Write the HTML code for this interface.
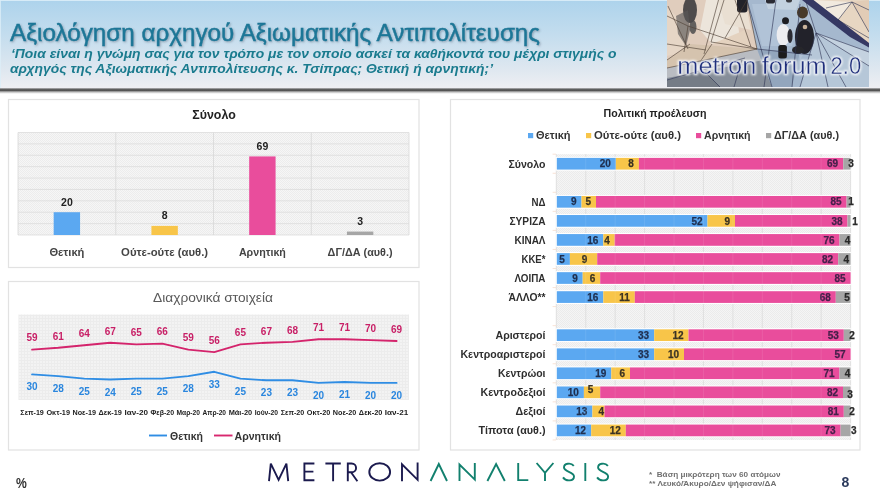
<!DOCTYPE html>
<html><head><meta charset="utf-8"><title>Metron Analysis</title>
<style>
html,body{margin:0;padding:0;background:#fff;}
body{width:880px;height:495px;overflow:hidden;font-family:"Liberation Sans",sans-serif;}
svg{display:block;opacity:0.999;will-change:transform;font-family:"Liberation Sans",sans-serif;}
</style></head><body>
<svg width="880" height="495" viewBox="0 0 880 495">
<defs>
<linearGradient id="hg" x1="0" y1="0" x2="0" y2="1">
<stop offset="0" stop-color="#add3ec"/><stop offset="0.4" stop-color="#c4ddee"/><stop offset="0.8" stop-color="#e0e8f0"/><stop offset="1" stop-color="#efeff3"/>
</linearGradient>
<linearGradient id="sh" x1="0" y1="0" x2="0" y2="1">
<stop offset="0" stop-color="#666" stop-opacity="0"/><stop offset="0.2" stop-color="#444" stop-opacity="0.75"/><stop offset="0.42" stop-color="#3a3a3a" stop-opacity="0.95"/><stop offset="0.65" stop-color="#666" stop-opacity="0.55"/><stop offset="1" stop-color="#aaa" stop-opacity="0"/>
</linearGradient>
<pattern id="hatch" width="2" height="2" patternUnits="userSpaceOnUse"><rect width="2" height="2" fill="#f6f6f6"/><rect width="1" height="1" fill="#ececec"/><rect x="1" y="1" width="1" height="1" fill="#ececec"/></pattern>
<pattern id="hatch2" width="2" height="2" patternUnits="userSpaceOnUse"><rect width="2" height="2" fill="#f5f5f5"/><rect width="1" height="1" fill="#ebebeb"/><rect x="1" y="1" width="1" height="1" fill="#ebebeb"/></pattern>
<pattern id="grid" width="3" height="3" patternUnits="userSpaceOnUse"><rect width="3" height="3" fill="#f3f3f3"/><path d="M0 0.5H3M0.5 0V3" stroke="#ececec" stroke-width="1"/></pattern>
<filter id="ts" x="-5%" y="-20%" width="110%" height="150%"><feDropShadow dx="1" dy="1" stdDeviation="0.8" flood-color="#456" flood-opacity="0.45"/></filter>
<clipPath id="pc"><rect x="667" y="0" width="201.5" height="86.5"/></clipPath>
<filter id="pb" x="-5%" y="-5%" width="110%" height="110%"><feGaussianBlur stdDeviation="0.7"/></filter>
<filter id="glow" x="-10%" y="-50%" width="120%" height="200%"><feGaussianBlur stdDeviation="1.25"/></filter>
</defs>
<rect x="0" y="0" width="880" height="89" fill="url(#hg)"/>
<rect x="0" y="0" width="880" height="1" fill="#dcedf8" opacity="0.9"/>
<rect x="0" y="0" width="1" height="88" fill="#dcedf8" opacity="0.8"/>
<rect x="0" y="87.6" width="880" height="6.4" fill="url(#sh)"/>
<text x="10" y="41.3" font-size="23.3" fill="#1c7797" font-weight="normal" text-anchor="start" textLength="530" lengthAdjust="spacingAndGlyphs" stroke="#1c7797" stroke-width="0.45" filter="url(#ts)">Αξιολόγηση αρχηγού Αξιωματικής Αντιπολίτευσης</text>
<text x="11" y="57.5" font-size="12.3" fill="#1a7b8e" font-weight="bold" text-anchor="start" textLength="605.5" lengthAdjust="spacingAndGlyphs" font-style="italic" >‘Ποια είναι η γνώμη σας για τον τρόπο με τον οποίο ασκεί τα καθήκοντά του μέχρι στιγμής ο</text>
<text x="10" y="73.4" font-size="12.3" fill="#1a7b8e" font-weight="bold" text-anchor="start" textLength="483" lengthAdjust="spacingAndGlyphs" font-style="italic" >αρχηγός της Αξιωματικής Αντιπολίτευσης κ. Τσίπρας; Θετική ή αρνητική;’</text>
<rect x="8.5" y="99.5" width="410.5" height="168" fill="#fff" stroke="#e2e2e2" stroke-width="1.2"/>
<rect x="8.5" y="281.5" width="410.5" height="168.5" fill="#fff" stroke="#e2e2e2" stroke-width="1.2"/>
<rect x="450.5" y="99.5" width="409.5" height="350.5" fill="#fff" stroke="#e2e2e2" stroke-width="1.2"/>
<rect x="18" y="132.5" width="391" height="102.5" fill="url(#hatch)"/>
<line x1="18" x2="409" y1="132.50" y2="132.50" stroke="#dcdcdc" stroke-width="0.8"/>
<line x1="18" x2="409" y1="143.89" y2="143.89" stroke="#dcdcdc" stroke-width="0.8"/>
<line x1="18" x2="409" y1="155.28" y2="155.28" stroke="#dcdcdc" stroke-width="0.8"/>
<line x1="18" x2="409" y1="166.67" y2="166.67" stroke="#dcdcdc" stroke-width="0.8"/>
<line x1="18" x2="409" y1="178.06" y2="178.06" stroke="#dcdcdc" stroke-width="0.8"/>
<line x1="18" x2="409" y1="189.44" y2="189.44" stroke="#dcdcdc" stroke-width="0.8"/>
<line x1="18" x2="409" y1="200.83" y2="200.83" stroke="#dcdcdc" stroke-width="0.8"/>
<line x1="18" x2="409" y1="212.22" y2="212.22" stroke="#dcdcdc" stroke-width="0.8"/>
<line x1="18" x2="409" y1="223.61" y2="223.61" stroke="#dcdcdc" stroke-width="0.8"/>
<line x1="18" x2="409" y1="235.00" y2="235.00" stroke="#dcdcdc" stroke-width="0.8"/>
<line x1="18.00" x2="18.00" y1="132.5" y2="235" stroke="#d8d8d8" stroke-width="0.8"/>
<line x1="115.75" x2="115.75" y1="132.5" y2="235" stroke="#d8d8d8" stroke-width="0.8"/>
<line x1="213.50" x2="213.50" y1="132.5" y2="235" stroke="#d8d8d8" stroke-width="0.8"/>
<line x1="311.25" x2="311.25" y1="132.5" y2="235" stroke="#d8d8d8" stroke-width="0.8"/>
<line x1="409.00" x2="409.00" y1="132.5" y2="235" stroke="#d8d8d8" stroke-width="0.8"/>
<text x="214" y="118.5" font-size="12.5" fill="#222" font-weight="bold" text-anchor="middle" textLength="43.5" lengthAdjust="spacingAndGlyphs" >Σύνολο</text>
<rect x="53.67" y="212.22" width="26.4" height="22.78" fill="#5ba8f1"/>
<text x="66.9" y="205.7" font-size="10.5" fill="#222" font-weight="bold" text-anchor="middle" >20</text>
<text x="66.9" y="256" font-size="10.5" fill="#444" font-weight="bold" text-anchor="middle" textLength="35" lengthAdjust="spacingAndGlyphs" >Θετική</text>
<rect x="151.43" y="225.89" width="26.4" height="9.11" fill="#f8c549"/>
<text x="164.6" y="219.4" font-size="10.5" fill="#222" font-weight="bold" text-anchor="middle" >8</text>
<text x="164.6" y="256" font-size="10.5" fill="#444" font-weight="bold" text-anchor="middle" textLength="87" lengthAdjust="spacingAndGlyphs" >Ούτε-ούτε (αυθ.)</text>
<rect x="249.18" y="156.42" width="26.4" height="78.58" fill="#e94d9c"/>
<text x="262.4" y="149.9" font-size="10.5" fill="#222" font-weight="bold" text-anchor="middle" >69</text>
<text x="262.4" y="256" font-size="10.5" fill="#444" font-weight="bold" text-anchor="middle" textLength="47" lengthAdjust="spacingAndGlyphs" >Αρνητική</text>
<rect x="346.93" y="231.58" width="26.4" height="3.42" fill="#a6a6a6"/>
<text x="360.1" y="225.1" font-size="10.5" fill="#222" font-weight="bold" text-anchor="middle" >3</text>
<text x="360.1" y="256" font-size="10.5" fill="#444" font-weight="bold" text-anchor="middle" textLength="65" lengthAdjust="spacingAndGlyphs" >ΔΓ/ΔΑ (αυθ.)</text>
<rect x="18.5" y="314.5" width="390.5" height="85.5" fill="url(#grid)"/>
<text x="213" y="302" font-size="12.5" fill="#595959" font-weight="normal" text-anchor="middle" textLength="120" lengthAdjust="spacingAndGlyphs" >Διαχρονικά στοιχεία</text>
<polyline points="32.1,349.6 58.2,347.8 84.2,345.3 110.2,342.7 136.2,344.4 162.3,343.6 188.3,349.6 214.3,352.1 240.4,344.4 266.4,342.7 292.5,341.9 318.5,339.3 344.5,339.3 370.6,340.1 396.6,341.0" fill="none" stroke="#d4246c" stroke-width="1.9" stroke-linejoin="round" stroke-linecap="round"/>
<text x="32.1" y="341.4" font-size="10" fill="#c81f66" font-weight="bold" text-anchor="middle" >59</text>
<text x="58.2" y="339.6" font-size="10" fill="#c81f66" font-weight="bold" text-anchor="middle" >61</text>
<text x="84.2" y="337.1" font-size="10" fill="#c81f66" font-weight="bold" text-anchor="middle" >64</text>
<text x="110.2" y="334.5" font-size="10" fill="#c81f66" font-weight="bold" text-anchor="middle" >67</text>
<text x="136.2" y="336.2" font-size="10" fill="#c81f66" font-weight="bold" text-anchor="middle" >65</text>
<text x="162.3" y="335.4" font-size="10" fill="#c81f66" font-weight="bold" text-anchor="middle" >66</text>
<text x="188.3" y="341.4" font-size="10" fill="#c81f66" font-weight="bold" text-anchor="middle" >59</text>
<text x="214.3" y="343.9" font-size="10" fill="#c81f66" font-weight="bold" text-anchor="middle" >56</text>
<text x="240.4" y="336.2" font-size="10" fill="#c81f66" font-weight="bold" text-anchor="middle" >65</text>
<text x="266.4" y="334.5" font-size="10" fill="#c81f66" font-weight="bold" text-anchor="middle" >67</text>
<text x="292.5" y="333.7" font-size="10" fill="#c81f66" font-weight="bold" text-anchor="middle" >68</text>
<text x="318.5" y="331.1" font-size="10" fill="#c81f66" font-weight="bold" text-anchor="middle" >71</text>
<text x="344.5" y="331.1" font-size="10" fill="#c81f66" font-weight="bold" text-anchor="middle" >71</text>
<text x="370.6" y="331.9" font-size="10" fill="#c81f66" font-weight="bold" text-anchor="middle" >70</text>
<text x="396.6" y="332.8" font-size="10" fill="#c81f66" font-weight="bold" text-anchor="middle" >69</text>
<polyline points="32.1,374.4 58.2,376.1 84.2,378.6 110.2,379.5 136.2,378.6 162.3,378.6 188.3,376.1 214.3,371.8 240.4,378.6 266.4,380.3 292.5,380.3 318.5,382.9 344.5,382.0 370.6,382.9 396.6,382.9" fill="none" stroke="#2f8de4" stroke-width="1.9" stroke-linejoin="round" stroke-linecap="round"/>
<text x="32.1" y="390.4" font-size="10" fill="#2a86de" font-weight="bold" text-anchor="middle" >30</text>
<text x="58.2" y="392.1" font-size="10" fill="#2a86de" font-weight="bold" text-anchor="middle" >28</text>
<text x="84.2" y="394.6" font-size="10" fill="#2a86de" font-weight="bold" text-anchor="middle" >25</text>
<text x="110.2" y="395.5" font-size="10" fill="#2a86de" font-weight="bold" text-anchor="middle" >24</text>
<text x="136.2" y="394.6" font-size="10" fill="#2a86de" font-weight="bold" text-anchor="middle" >25</text>
<text x="162.3" y="394.6" font-size="10" fill="#2a86de" font-weight="bold" text-anchor="middle" >25</text>
<text x="188.3" y="392.1" font-size="10" fill="#2a86de" font-weight="bold" text-anchor="middle" >28</text>
<text x="214.3" y="387.8" font-size="10" fill="#2a86de" font-weight="bold" text-anchor="middle" >33</text>
<text x="240.4" y="394.6" font-size="10" fill="#2a86de" font-weight="bold" text-anchor="middle" >25</text>
<text x="266.4" y="396.3" font-size="10" fill="#2a86de" font-weight="bold" text-anchor="middle" >23</text>
<text x="292.5" y="396.3" font-size="10" fill="#2a86de" font-weight="bold" text-anchor="middle" >23</text>
<text x="318.5" y="398.9" font-size="10" fill="#2a86de" font-weight="bold" text-anchor="middle" >20</text>
<text x="344.5" y="398.0" font-size="10" fill="#2a86de" font-weight="bold" text-anchor="middle" >21</text>
<text x="370.6" y="398.9" font-size="10" fill="#2a86de" font-weight="bold" text-anchor="middle" >20</text>
<text x="396.6" y="398.9" font-size="10" fill="#2a86de" font-weight="bold" text-anchor="middle" >20</text>
<text x="32.1" y="414.5" font-size="6.6" fill="#222" font-weight="bold" text-anchor="middle" textLength="23.5" lengthAdjust="spacingAndGlyphs" >Σεπ-19</text>
<text x="58.2" y="414.5" font-size="6.6" fill="#222" font-weight="bold" text-anchor="middle" textLength="23.5" lengthAdjust="spacingAndGlyphs" >Οκτ-19</text>
<text x="84.2" y="414.5" font-size="6.6" fill="#222" font-weight="bold" text-anchor="middle" textLength="23.5" lengthAdjust="spacingAndGlyphs" >Νοε-19</text>
<text x="110.2" y="414.5" font-size="6.6" fill="#222" font-weight="bold" text-anchor="middle" textLength="23.5" lengthAdjust="spacingAndGlyphs" >Δεκ-19</text>
<text x="136.2" y="414.5" font-size="6.6" fill="#222" font-weight="bold" text-anchor="middle" textLength="23.5" lengthAdjust="spacingAndGlyphs" >Ιαν-20</text>
<text x="162.3" y="414.5" font-size="6.6" fill="#222" font-weight="bold" text-anchor="middle" textLength="23.5" lengthAdjust="spacingAndGlyphs" >Φεβ-20</text>
<text x="188.3" y="414.5" font-size="6.6" fill="#222" font-weight="bold" text-anchor="middle" textLength="23.5" lengthAdjust="spacingAndGlyphs" >Μαρ-20</text>
<text x="214.3" y="414.5" font-size="6.6" fill="#222" font-weight="bold" text-anchor="middle" textLength="23.5" lengthAdjust="spacingAndGlyphs" >Απρ-20</text>
<text x="240.4" y="414.5" font-size="6.6" fill="#222" font-weight="bold" text-anchor="middle" textLength="23.5" lengthAdjust="spacingAndGlyphs" >Μάι-20</text>
<text x="266.4" y="414.5" font-size="6.6" fill="#222" font-weight="bold" text-anchor="middle" textLength="23.5" lengthAdjust="spacingAndGlyphs" >Ιούν-20</text>
<text x="292.5" y="414.5" font-size="6.6" fill="#222" font-weight="bold" text-anchor="middle" textLength="23.5" lengthAdjust="spacingAndGlyphs" >Σεπ-20</text>
<text x="318.5" y="414.5" font-size="6.6" fill="#222" font-weight="bold" text-anchor="middle" textLength="23.5" lengthAdjust="spacingAndGlyphs" >Οκτ-20</text>
<text x="344.5" y="414.5" font-size="6.6" fill="#222" font-weight="bold" text-anchor="middle" textLength="23.5" lengthAdjust="spacingAndGlyphs" >Νοε-20</text>
<text x="370.6" y="414.5" font-size="6.6" fill="#222" font-weight="bold" text-anchor="middle" textLength="23.5" lengthAdjust="spacingAndGlyphs" >Δεκ-20</text>
<text x="396.6" y="414.5" font-size="6.6" fill="#222" font-weight="bold" text-anchor="middle" textLength="23.5" lengthAdjust="spacingAndGlyphs" >Ιαν-21</text>
<line x1="149" x2="167" y1="435.5" y2="435.5" stroke="#2f8de4" stroke-width="1.9"/>
<text x="170" y="439.5" font-size="10.5" fill="#333" font-weight="bold" text-anchor="start" textLength="33" lengthAdjust="spacingAndGlyphs" >Θετική</text>
<line x1="214" x2="232.5" y1="435.5" y2="435.5" stroke="#d8276f" stroke-width="1.9"/>
<text x="234.5" y="439.5" font-size="10.5" fill="#333" font-weight="bold" text-anchor="start" textLength="46.5" lengthAdjust="spacingAndGlyphs" >Αρνητική</text>
<rect x="556.3" y="154.2" width="294.30000000000007" height="285.8" fill="url(#hatch2)"/>
<line x1="556.30" x2="556.30" y1="154.2" y2="439.9" stroke="#d9d9d9" stroke-width="0.8"/>
<line x1="585.73" x2="585.73" y1="154.2" y2="439.9" stroke="#d9d9d9" stroke-width="0.8"/>
<line x1="615.16" x2="615.16" y1="154.2" y2="439.9" stroke="#d9d9d9" stroke-width="0.8"/>
<line x1="644.59" x2="644.59" y1="154.2" y2="439.9" stroke="#d9d9d9" stroke-width="0.8"/>
<line x1="674.02" x2="674.02" y1="154.2" y2="439.9" stroke="#d9d9d9" stroke-width="0.8"/>
<line x1="703.45" x2="703.45" y1="154.2" y2="439.9" stroke="#d9d9d9" stroke-width="0.8"/>
<line x1="732.88" x2="732.88" y1="154.2" y2="439.9" stroke="#d9d9d9" stroke-width="0.8"/>
<line x1="762.31" x2="762.31" y1="154.2" y2="439.9" stroke="#d9d9d9" stroke-width="0.8"/>
<line x1="791.74" x2="791.74" y1="154.2" y2="439.9" stroke="#d9d9d9" stroke-width="0.8"/>
<line x1="821.17" x2="821.17" y1="154.2" y2="439.9" stroke="#d9d9d9" stroke-width="0.8"/>
<line x1="850.60" x2="850.60" y1="154.2" y2="439.9" stroke="#d9d9d9" stroke-width="0.8"/>
<line x1="552.6" x2="556" y1="154.20" y2="154.20" stroke="#f6dccb" stroke-width="0.8"/>
<line x1="552.6" x2="556" y1="173.25" y2="173.25" stroke="#f6dccb" stroke-width="0.8"/>
<line x1="552.6" x2="556" y1="192.30" y2="192.30" stroke="#f6dccb" stroke-width="0.8"/>
<line x1="552.6" x2="556" y1="211.35" y2="211.35" stroke="#f6dccb" stroke-width="0.8"/>
<line x1="552.6" x2="556" y1="230.40" y2="230.40" stroke="#f6dccb" stroke-width="0.8"/>
<line x1="552.6" x2="556" y1="249.45" y2="249.45" stroke="#f6dccb" stroke-width="0.8"/>
<line x1="552.6" x2="556" y1="268.50" y2="268.50" stroke="#f6dccb" stroke-width="0.8"/>
<line x1="552.6" x2="556" y1="287.55" y2="287.55" stroke="#f6dccb" stroke-width="0.8"/>
<line x1="552.6" x2="556" y1="306.60" y2="306.60" stroke="#f6dccb" stroke-width="0.8"/>
<line x1="552.6" x2="556" y1="325.65" y2="325.65" stroke="#f6dccb" stroke-width="0.8"/>
<line x1="552.6" x2="556" y1="344.70" y2="344.70" stroke="#f6dccb" stroke-width="0.8"/>
<line x1="552.6" x2="556" y1="363.75" y2="363.75" stroke="#f6dccb" stroke-width="0.8"/>
<line x1="552.6" x2="556" y1="382.80" y2="382.80" stroke="#f6dccb" stroke-width="0.8"/>
<line x1="552.6" x2="556" y1="401.85" y2="401.85" stroke="#f6dccb" stroke-width="0.8"/>
<line x1="552.6" x2="556" y1="420.90" y2="420.90" stroke="#f6dccb" stroke-width="0.8"/>
<line x1="552.6" x2="556" y1="439.95" y2="439.95" stroke="#f6dccb" stroke-width="0.8"/>
<text x="655" y="117" font-size="10.5" fill="#222" font-weight="bold" text-anchor="middle" textLength="103" lengthAdjust="spacingAndGlyphs" >Πολιτική προέλευση</text>
<rect x="528" y="133" width="5.2" height="5.2" fill="#5ba8f1"/>
<text x="536" y="139.3" font-size="10.5" fill="#333" font-weight="bold" text-anchor="start" textLength="34.5" lengthAdjust="spacingAndGlyphs" >Θετική</text>
<rect x="586" y="133" width="5.2" height="5.2" fill="#f8c549"/>
<text x="594" y="139.3" font-size="10.5" fill="#333" font-weight="bold" text-anchor="start" textLength="87" lengthAdjust="spacingAndGlyphs" >Ούτε-ούτε (αυθ.)</text>
<rect x="696" y="133" width="5.2" height="5.2" fill="#e94d9c"/>
<text x="704" y="139.3" font-size="10.5" fill="#333" font-weight="bold" text-anchor="start" textLength="46.5" lengthAdjust="spacingAndGlyphs" >Αρνητική</text>
<rect x="766" y="133" width="5.2" height="5.2" fill="#a6a6a6"/>
<text x="774" y="139.3" font-size="10.5" fill="#333" font-weight="bold" text-anchor="start" textLength="65" lengthAdjust="spacingAndGlyphs" >ΔΓ/ΔΑ (αυθ.)</text>
<rect x="555.70" y="156.82" width="295.50" height="13.8" fill="#ffffff"/>
<rect x="556.80" y="157.88" width="59.05" height="11.7" fill="#5ba8f1"/>
<rect x="615.85" y="157.88" width="23.05" height="11.7" fill="#f8c549"/>
<rect x="638.90" y="157.88" width="204.35" height="11.7" fill="#e94d9c"/>
<rect x="843.25" y="157.88" width="7.35" height="11.7" fill="#a6a6a6"/>
<text x="610.9" y="167.3" font-size="10" fill="#1f2f4f" font-weight="bold" text-anchor="end" stroke="#1f2f4f" stroke-width="0.25">20</text>
<text x="633.9" y="167.3" font-size="10" fill="#3a3222" font-weight="bold" text-anchor="end" stroke="#3a3222" stroke-width="0.25">8</text>
<text x="838.2" y="167.3" font-size="10" fill="#45204a" font-weight="bold" text-anchor="end" stroke="#45204a" stroke-width="0.25">69</text>
<text x="851.0" y="167.3" font-size="10" fill="#2a2a2a" font-weight="bold" text-anchor="middle" stroke="#2a2a2a" stroke-width="0.25">3</text>
<text x="545.5" y="167.5" font-size="10.5" fill="#2e2e2e" font-weight="bold" text-anchor="end" textLength="37" lengthAdjust="spacingAndGlyphs" >Σύνολο</text>
<rect x="555.70" y="194.92" width="295.50" height="13.8" fill="#ffffff"/>
<rect x="556.80" y="195.97" width="24.70" height="11.7" fill="#5ba8f1"/>
<rect x="581.50" y="195.97" width="14.50" height="11.7" fill="#f8c549"/>
<rect x="596.00" y="195.97" width="250.60" height="11.7" fill="#e94d9c"/>
<rect x="846.60" y="195.97" width="4.00" height="11.7" fill="#a6a6a6"/>
<text x="576.5" y="205.4" font-size="10" fill="#1f2f4f" font-weight="bold" text-anchor="end" stroke="#1f2f4f" stroke-width="0.25">9</text>
<text x="591.0" y="205.4" font-size="10" fill="#3a3222" font-weight="bold" text-anchor="end" stroke="#3a3222" stroke-width="0.25">5</text>
<text x="841.6" y="205.4" font-size="10" fill="#45204a" font-weight="bold" text-anchor="end" stroke="#45204a" stroke-width="0.25">85</text>
<text x="851.0" y="205.4" font-size="10" fill="#2a2a2a" font-weight="bold" text-anchor="middle" stroke="#2a2a2a" stroke-width="0.25">1</text>
<text x="545.5" y="205.6" font-size="10.5" fill="#2e2e2e" font-weight="bold" text-anchor="end" textLength="14" lengthAdjust="spacingAndGlyphs" >ΝΔ</text>
<rect x="555.70" y="213.97" width="295.50" height="13.8" fill="#ffffff"/>
<rect x="556.80" y="215.03" width="150.70" height="11.7" fill="#5ba8f1"/>
<rect x="707.50" y="215.03" width="27.50" height="11.7" fill="#f8c549"/>
<rect x="735.00" y="215.03" width="112.50" height="11.7" fill="#e94d9c"/>
<rect x="847.50" y="215.03" width="3.10" height="11.7" fill="#a6a6a6"/>
<text x="702.5" y="224.5" font-size="10" fill="#1f2f4f" font-weight="bold" text-anchor="end" stroke="#1f2f4f" stroke-width="0.25">52</text>
<text x="730.0" y="224.5" font-size="10" fill="#3a3222" font-weight="bold" text-anchor="end" stroke="#3a3222" stroke-width="0.25">9</text>
<text x="842.5" y="224.5" font-size="10" fill="#45204a" font-weight="bold" text-anchor="end" stroke="#45204a" stroke-width="0.25">38</text>
<text x="855.0" y="224.5" font-size="10" fill="#2a2a2a" font-weight="bold" text-anchor="middle" stroke="#2a2a2a" stroke-width="0.25">1</text>
<text x="545.5" y="224.7" font-size="10.5" fill="#2e2e2e" font-weight="bold" text-anchor="end" textLength="36" lengthAdjust="spacingAndGlyphs" >ΣΥΡΙΖΑ</text>
<rect x="555.70" y="233.03" width="295.50" height="13.8" fill="#ffffff"/>
<rect x="556.80" y="234.08" width="46.50" height="11.7" fill="#5ba8f1"/>
<rect x="603.30" y="234.08" width="11.40" height="11.7" fill="#f8c549"/>
<rect x="614.70" y="234.08" width="224.80" height="11.7" fill="#e94d9c"/>
<rect x="839.50" y="234.08" width="11.10" height="11.7" fill="#a6a6a6"/>
<text x="598.3" y="243.5" font-size="10" fill="#1f2f4f" font-weight="bold" text-anchor="end" stroke="#1f2f4f" stroke-width="0.25">16</text>
<text x="609.7" y="243.5" font-size="10" fill="#3a3222" font-weight="bold" text-anchor="end" stroke="#3a3222" stroke-width="0.25">4</text>
<text x="834.5" y="243.5" font-size="10" fill="#45204a" font-weight="bold" text-anchor="end" stroke="#45204a" stroke-width="0.25">76</text>
<text x="847.5" y="243.5" font-size="10" fill="#2a2a2a" font-weight="bold" text-anchor="middle" stroke="#2a2a2a" stroke-width="0.25">4</text>
<text x="545.5" y="243.7" font-size="10.5" fill="#2e2e2e" font-weight="bold" text-anchor="end" textLength="31" lengthAdjust="spacingAndGlyphs" >ΚΙΝΑΛ</text>
<rect x="555.70" y="252.08" width="295.50" height="13.8" fill="#ffffff"/>
<rect x="556.80" y="253.13" width="13.10" height="11.7" fill="#5ba8f1"/>
<rect x="569.90" y="253.13" width="27.30" height="11.7" fill="#f8c549"/>
<rect x="597.20" y="253.13" width="241.00" height="11.7" fill="#e94d9c"/>
<rect x="838.20" y="253.13" width="12.40" height="11.7" fill="#a6a6a6"/>
<text x="564.9" y="262.6" font-size="10" fill="#1f2f4f" font-weight="bold" text-anchor="end" stroke="#1f2f4f" stroke-width="0.25">5</text>
<text x="584.6" y="262.6" font-size="10" fill="#3a3222" font-weight="bold" text-anchor="middle" stroke="#3a3222" stroke-width="0.25">9</text>
<text x="833.2" y="262.6" font-size="10" fill="#45204a" font-weight="bold" text-anchor="end" stroke="#45204a" stroke-width="0.25">82</text>
<text x="846.3" y="262.6" font-size="10" fill="#2a2a2a" font-weight="bold" text-anchor="middle" stroke="#2a2a2a" stroke-width="0.25">4</text>
<text x="545.5" y="262.8" font-size="10.5" fill="#2e2e2e" font-weight="bold" text-anchor="end" textLength="24" lengthAdjust="spacingAndGlyphs" >ΚΚΕ*</text>
<rect x="555.70" y="271.12" width="295.50" height="13.8" fill="#ffffff"/>
<rect x="556.80" y="272.17" width="25.90" height="11.7" fill="#5ba8f1"/>
<rect x="582.70" y="272.17" width="17.50" height="11.7" fill="#f8c549"/>
<rect x="600.20" y="272.17" width="250.40" height="11.7" fill="#e94d9c"/>
<text x="577.7" y="281.6" font-size="10" fill="#1f2f4f" font-weight="bold" text-anchor="end" stroke="#1f2f4f" stroke-width="0.25">9</text>
<text x="595.2" y="281.6" font-size="10" fill="#3a3222" font-weight="bold" text-anchor="end" stroke="#3a3222" stroke-width="0.25">6</text>
<text x="845.6" y="281.6" font-size="10" fill="#45204a" font-weight="bold" text-anchor="end" stroke="#45204a" stroke-width="0.25">85</text>
<text x="545.5" y="281.8" font-size="10.5" fill="#2e2e2e" font-weight="bold" text-anchor="end" textLength="31" lengthAdjust="spacingAndGlyphs" >ΛΟΙΠΑ</text>
<rect x="555.70" y="290.18" width="295.50" height="13.8" fill="#ffffff"/>
<rect x="556.80" y="291.22" width="46.50" height="11.7" fill="#5ba8f1"/>
<rect x="603.30" y="291.22" width="31.50" height="11.7" fill="#f8c549"/>
<rect x="634.80" y="291.22" width="201.00" height="11.7" fill="#e94d9c"/>
<rect x="835.80" y="291.22" width="14.80" height="11.7" fill="#a6a6a6"/>
<text x="598.3" y="300.7" font-size="10" fill="#1f2f4f" font-weight="bold" text-anchor="end" stroke="#1f2f4f" stroke-width="0.25">16</text>
<text x="629.8" y="300.7" font-size="10" fill="#3a3222" font-weight="bold" text-anchor="end" stroke="#3a3222" stroke-width="0.25">11</text>
<text x="830.8" y="300.7" font-size="10" fill="#45204a" font-weight="bold" text-anchor="end" stroke="#45204a" stroke-width="0.25">68</text>
<text x="847.0" y="300.7" font-size="10" fill="#2a2a2a" font-weight="bold" text-anchor="middle" stroke="#2a2a2a" stroke-width="0.25">5</text>
<text x="545.5" y="300.9" font-size="10.5" fill="#2e2e2e" font-weight="bold" text-anchor="end" textLength="37" lengthAdjust="spacingAndGlyphs" >ΆΛΛΟ**</text>
<rect x="555.70" y="328.27" width="295.50" height="13.8" fill="#ffffff"/>
<rect x="556.80" y="329.32" width="97.40" height="11.7" fill="#5ba8f1"/>
<rect x="654.20" y="329.32" width="34.30" height="11.7" fill="#f8c549"/>
<rect x="688.50" y="329.32" width="155.30" height="11.7" fill="#e94d9c"/>
<rect x="843.80" y="329.32" width="6.80" height="11.7" fill="#a6a6a6"/>
<text x="649.2" y="338.8" font-size="10" fill="#1f2f4f" font-weight="bold" text-anchor="end" stroke="#1f2f4f" stroke-width="0.25">33</text>
<text x="683.5" y="338.8" font-size="10" fill="#3a3222" font-weight="bold" text-anchor="end" stroke="#3a3222" stroke-width="0.25">12</text>
<text x="838.8" y="338.8" font-size="10" fill="#45204a" font-weight="bold" text-anchor="end" stroke="#45204a" stroke-width="0.25">53</text>
<text x="852.0" y="338.8" font-size="10" fill="#2a2a2a" font-weight="bold" text-anchor="middle" stroke="#2a2a2a" stroke-width="0.25">2</text>
<text x="545.5" y="339.0" font-size="10.5" fill="#2e2e2e" font-weight="bold" text-anchor="end" textLength="50" lengthAdjust="spacingAndGlyphs" >Αριστεροί</text>
<rect x="555.70" y="347.33" width="295.50" height="13.8" fill="#ffffff"/>
<rect x="556.80" y="348.38" width="97.40" height="11.7" fill="#5ba8f1"/>
<rect x="654.20" y="348.38" width="29.80" height="11.7" fill="#f8c549"/>
<rect x="684.00" y="348.38" width="166.60" height="11.7" fill="#e94d9c"/>
<text x="649.2" y="357.8" font-size="10" fill="#1f2f4f" font-weight="bold" text-anchor="end" stroke="#1f2f4f" stroke-width="0.25">33</text>
<text x="679.0" y="357.8" font-size="10" fill="#3a3222" font-weight="bold" text-anchor="end" stroke="#3a3222" stroke-width="0.25">10</text>
<text x="845.6" y="357.8" font-size="10" fill="#45204a" font-weight="bold" text-anchor="end" stroke="#45204a" stroke-width="0.25">57</text>
<text x="545.5" y="358.0" font-size="10.5" fill="#2e2e2e" font-weight="bold" text-anchor="end" textLength="85" lengthAdjust="spacingAndGlyphs" >Κεντροαριστεροί</text>
<rect x="555.70" y="366.38" width="295.50" height="13.8" fill="#ffffff"/>
<rect x="556.80" y="367.42" width="54.50" height="11.7" fill="#5ba8f1"/>
<rect x="611.30" y="367.42" width="18.70" height="11.7" fill="#f8c549"/>
<rect x="630.00" y="367.42" width="209.50" height="11.7" fill="#e94d9c"/>
<rect x="839.50" y="367.42" width="11.10" height="11.7" fill="#a6a6a6"/>
<text x="606.3" y="376.9" font-size="10" fill="#1f2f4f" font-weight="bold" text-anchor="end" stroke="#1f2f4f" stroke-width="0.25">19</text>
<text x="625.0" y="376.9" font-size="10" fill="#3a3222" font-weight="bold" text-anchor="end" stroke="#3a3222" stroke-width="0.25">6</text>
<text x="834.5" y="376.9" font-size="10" fill="#45204a" font-weight="bold" text-anchor="end" stroke="#45204a" stroke-width="0.25">71</text>
<text x="847.5" y="376.9" font-size="10" fill="#2a2a2a" font-weight="bold" text-anchor="middle" stroke="#2a2a2a" stroke-width="0.25">4</text>
<text x="545.5" y="377.1" font-size="10.5" fill="#2e2e2e" font-weight="bold" text-anchor="end" textLength="47.5" lengthAdjust="spacingAndGlyphs" >Κεντρώοι</text>
<rect x="555.70" y="385.43" width="295.50" height="13.8" fill="#ffffff"/>
<rect x="556.80" y="386.47" width="27.10" height="11.7" fill="#5ba8f1"/>
<rect x="583.90" y="386.47" width="16.30" height="11.7" fill="#f8c549"/>
<rect x="600.20" y="386.47" width="242.80" height="11.7" fill="#e94d9c"/>
<rect x="843.00" y="386.47" width="7.60" height="11.7" fill="#a6a6a6"/>
<text x="578.9" y="395.9" font-size="10" fill="#1f2f4f" font-weight="bold" text-anchor="end" stroke="#1f2f4f" stroke-width="0.25">10</text>
<text x="590.5" y="393.1" font-size="10" fill="#3a3222" font-weight="bold" text-anchor="middle" stroke="#3a3222" stroke-width="0.25">5</text>
<text x="838.0" y="395.9" font-size="10" fill="#45204a" font-weight="bold" text-anchor="end" stroke="#45204a" stroke-width="0.25">82</text>
<text x="850.0" y="397.7" font-size="10" fill="#2a2a2a" font-weight="bold" text-anchor="middle" stroke="#2a2a2a" stroke-width="0.25">3</text>
<text x="545.5" y="396.1" font-size="10.5" fill="#2e2e2e" font-weight="bold" text-anchor="end" textLength="65" lengthAdjust="spacingAndGlyphs" >Κεντροδεξιοί</text>
<rect x="555.70" y="404.48" width="295.50" height="13.8" fill="#ffffff"/>
<rect x="556.80" y="405.52" width="35.60" height="11.7" fill="#5ba8f1"/>
<rect x="592.40" y="405.52" width="12.10" height="11.7" fill="#f8c549"/>
<rect x="604.50" y="405.52" width="239.30" height="11.7" fill="#e94d9c"/>
<rect x="843.80" y="405.52" width="6.80" height="11.7" fill="#a6a6a6"/>
<text x="587.4" y="415.0" font-size="10" fill="#1f2f4f" font-weight="bold" text-anchor="end" stroke="#1f2f4f" stroke-width="0.25">13</text>
<text x="601.4" y="415.0" font-size="10" fill="#3a3222" font-weight="bold" text-anchor="middle" stroke="#3a3222" stroke-width="0.25">4</text>
<text x="838.8" y="415.0" font-size="10" fill="#45204a" font-weight="bold" text-anchor="end" stroke="#45204a" stroke-width="0.25">81</text>
<text x="852.0" y="415.0" font-size="10" fill="#2a2a2a" font-weight="bold" text-anchor="middle" stroke="#2a2a2a" stroke-width="0.25">2</text>
<text x="545.5" y="415.2" font-size="10.5" fill="#2e2e2e" font-weight="bold" text-anchor="end" textLength="30" lengthAdjust="spacingAndGlyphs" >Δεξιοί</text>
<rect x="555.70" y="423.53" width="295.50" height="13.8" fill="#ffffff"/>
<rect x="556.80" y="424.57" width="34.40" height="11.7" fill="#5ba8f1"/>
<rect x="591.20" y="424.57" width="34.60" height="11.7" fill="#f8c549"/>
<rect x="625.80" y="424.57" width="214.80" height="11.7" fill="#e94d9c"/>
<rect x="840.60" y="424.57" width="10.00" height="11.7" fill="#a6a6a6"/>
<text x="586.2" y="434.0" font-size="10" fill="#1f2f4f" font-weight="bold" text-anchor="end" stroke="#1f2f4f" stroke-width="0.25">12</text>
<text x="620.8" y="434.0" font-size="10" fill="#3a3222" font-weight="bold" text-anchor="end" stroke="#3a3222" stroke-width="0.25">12</text>
<text x="835.6" y="434.0" font-size="10" fill="#45204a" font-weight="bold" text-anchor="end" stroke="#45204a" stroke-width="0.25">73</text>
<text x="853.7" y="434.0" font-size="10" fill="#2a2a2a" font-weight="bold" text-anchor="middle" stroke="#2a2a2a" stroke-width="0.25">3</text>
<text x="545.5" y="434.2" font-size="10.5" fill="#2e2e2e" font-weight="bold" text-anchor="end" textLength="67" lengthAdjust="spacingAndGlyphs" >Τίποτα (αυθ.)</text>
<line x1="585.73" x2="585.73" y1="154.2" y2="439.9" stroke="#ffffff" stroke-opacity="0.12" stroke-width="0.8"/>
<line x1="615.16" x2="615.16" y1="154.2" y2="439.9" stroke="#ffffff" stroke-opacity="0.12" stroke-width="0.8"/>
<line x1="644.59" x2="644.59" y1="154.2" y2="439.9" stroke="#ffffff" stroke-opacity="0.12" stroke-width="0.8"/>
<line x1="674.02" x2="674.02" y1="154.2" y2="439.9" stroke="#ffffff" stroke-opacity="0.12" stroke-width="0.8"/>
<line x1="703.45" x2="703.45" y1="154.2" y2="439.9" stroke="#ffffff" stroke-opacity="0.12" stroke-width="0.8"/>
<line x1="732.88" x2="732.88" y1="154.2" y2="439.9" stroke="#ffffff" stroke-opacity="0.12" stroke-width="0.8"/>
<line x1="762.31" x2="762.31" y1="154.2" y2="439.9" stroke="#ffffff" stroke-opacity="0.12" stroke-width="0.8"/>
<line x1="791.74" x2="791.74" y1="154.2" y2="439.9" stroke="#ffffff" stroke-opacity="0.12" stroke-width="0.8"/>
<line x1="821.17" x2="821.17" y1="154.2" y2="439.9" stroke="#ffffff" stroke-opacity="0.12" stroke-width="0.8"/>
<text x="16" y="488" font-size="14" fill="#333" font-weight="bold" text-anchor="start" textLength="10.8" lengthAdjust="spacingAndGlyphs" >%</text>
<text x="649" y="476.5" font-size="7.2" fill="#707070" font-weight="bold" text-anchor="start" textLength="131.5" lengthAdjust="spacingAndGlyphs" >*&#160;&#160;Βάση μικρότερη των 60 ατόμων</text>
<text x="649" y="486" font-size="7.2" fill="#707070" font-weight="bold" text-anchor="start" textLength="127.5" lengthAdjust="spacingAndGlyphs" >** Λευκό/Άκυρο/Δεν ψήφισαν/ΔΑ</text>
<text x="845.5" y="487" font-size="14" fill="#2b3a5c" font-weight="bold" text-anchor="middle" >8</text>
<g clip-path="url(#pc)">
<rect x="667" y="0" width="202" height="87" fill="#dccdbd"/>
<g filter="url(#pb)">
<!-- upper-left beige tiles -->
<polygon points="667,0 747,0 757,49 667,68" fill="#e0cdbd"/>
<polygon points="706,0 735,0 740,40 712,44 700,30" fill="#ece5db"/>
<polygon points="718,0 745,0 751,30 725,24" fill="#e9dfd2"/>
<polygon points="667,8 688,26 684,52 667,56" fill="#e6d6c6"/>
<polygon points="690,44 757,49 700,62 667,68 667,60" fill="#d5c3ae"/>
<polygon points="712,44 750,47 745,30" fill="#e4d2bf"/>
<!-- lit edge + lower-left grey -->
<polygon points="667,68 757,49 764,62 667,80" fill="#b9bcc2"/>
<polygon points="667,78 764,60 772,87 667,87" fill="#868e99"/>
<polygon points="667,80 705,72 720,87 667,87" fill="#757c86"/>
<!-- central blue -->
<polygon points="747,0 808,0 869,45 869,87 772,87 757,49" fill="#a5b8ce"/>
<polygon points="752,4 802,4 792,46 762,46" fill="#b1c3d7"/>
<polygon points="765,0 800,0 796,10 768,9" fill="#c3d1df"/>
<polygon points="757,49 800,52 792,87 772,87" fill="#93a6bd"/>
<polygon points="816,33 869,52 869,87 800,87" fill="#b6c7d8"/>
<polygon points="816,33 869,52 869,66" fill="#c4d2e0"/>
<polygon points="806,2 816,33 800,60 796,30" fill="#afc0d3"/>
<!-- upper right beige -->
<polygon points="812,0 869,0 869,43" fill="#e7d6c2"/>
<polygon points="813,0 852,2 838,20" fill="#f1e9de"/>
<polygon points="852,2 869,0 869,32" fill="#e2ccb6"/>
<!-- navy band -->
<polygon points="802,0 813.5,0 869,43 869,47.5 850,37" fill="#343763"/>
<!-- shadow figure top-left -->
<ellipse cx="690" cy="10" rx="7" ry="13" fill="#3f3d3e" opacity="0.9"/>
<ellipse cx="693" cy="27" rx="3.5" ry="7" fill="#4b4a4c" opacity="0.85"/>
<polygon points="676,16 688,10 690,30 686,46 678,34" fill="#5a5858" opacity="0.65"/>
<!-- people top -->
<rect x="737" y="-3" width="10.5" height="15.5" rx="3" fill="#24242a"/>
<rect x="766" y="-2" width="9" height="5.5" rx="2" fill="#2a2a30"/>
<rect x="786" y="-2" width="6" height="4.5" rx="2" fill="#3a3a40"/>
<!-- person white shirt -->
<ellipse cx="783.2" cy="35" rx="6.6" ry="11" fill="#ececef"/>
<circle cx="785.5" cy="20.8" r="3.5" fill="#1c1c20"/>
<rect x="778.3" y="45" width="8.6" height="13.5" rx="2.5" fill="#1a1a1e"/>
<ellipse cx="790" cy="36" rx="2.6" ry="7" fill="#2a2a32"/>
<!-- person dark -->
<ellipse cx="804.5" cy="37" rx="9.5" ry="17" fill="#22222a"/>
<ellipse cx="802.5" cy="12.5" rx="5.5" ry="6" fill="#4a3a2c"/>
<ellipse cx="798" cy="50" rx="6" ry="4" fill="#26262c"/>
<circle cx="805" cy="27" r="2.3" fill="#c9b39c"/>
</g>
<g stroke="#4f4036" stroke-width="0.75" fill="none" opacity="0.85">
<path d="M718.5,0 L704,54 M724,0 L711,42 L757,49 M667,16 L688,26 L757,49 M668,6 L688,49 M688,26 L684,52 M735,0 L751,47 M747,0 L725,38 M667,44 L706,50 M747,0 L757,49 L667,68 M712,44 L700,62 M667,60 L690,44"/>
</g>
<g stroke="#2b3150" stroke-width="0.75" fill="none" opacity="0.8">
<path d="M747,0 L772,87 M757,49 L812,55 M776,0 L764,87 M800,4 L792,87 M816,33 L869,52 M816,33 L869,66 M816,33 L846,87 M816,33 L828,87 M816,33 L800,87 M806,2 L816,33 M667,80 L745,58 M705,72 L720,87 M742,60 L734,87 M852,2 L869,32 M852,2 L838,20 M852,2 L869,10 M838,20 L869,38 M826,8 L852,2"/>
</g>
<g font-size="23" font-weight="normal" text-anchor="start">
<g fill="#ffffff" stroke="#ffffff" stroke-width="2.2" filter="url(#glow)" opacity="0.9">
<text x="677.3" y="73.6" textLength="79" lengthAdjust="spacingAndGlyphs">metron</text>
<text x="761.8" y="73.6" textLength="65" lengthAdjust="spacingAndGlyphs">forum</text>
<text x="830.6" y="73.6" textLength="30.6" lengthAdjust="spacingAndGlyphs">2.0</text>
</g>
<g fill="#1f2e7a" stroke="#dfe6f0" stroke-width="0.4">
<text x="677.3" y="73.6" textLength="79" lengthAdjust="spacingAndGlyphs">metron</text>
<text x="761.8" y="73.6" textLength="65" lengthAdjust="spacingAndGlyphs">forum</text>
<text x="830.6" y="73.6" textLength="30.6" lengthAdjust="spacingAndGlyphs">2.0</text>
</g>
</g>
</g>

<g fill="none" stroke="#1b1a4e" stroke-width="1.9" stroke-linecap="butt" stroke-linejoin="miter" stroke-miterlimit="3">
<path d="M269,481.2 L270.8,463.6 L278.6,479.8 L286.4,463.6 L288.2,481.2"/>
<path d="M314.4,463.5 L304.4,463.5 L304.4,480.3 L314.4,480.3 M304.4,471.6 L313.4,471.6"/>
<path d="M325.4,463.5 L340.8,463.5 M333.1,463.5 L333.1,481.2"/>
<path d="M347.8,481.2 L347.8,463.5 L351.5,463.5 C357.6,463.5 357.6,472.3 351.5,472.3 L347.8,472.3 M351,472.3 L357.4,481.2"/>
<ellipse cx="379.7" cy="471.9" rx="10.4" ry="8.7"/>
<path d="M402,481.2 L402,464.3 L417.6,479.8 L417.6,462.6"/>
</g>
<g fill="none" stroke="#12806e" stroke-width="1.9" stroke-linecap="butt" stroke-linejoin="miter" stroke-miterlimit="6">
<path d="M430.6,481 L438.8,464 L447,481"/>
<path d="M459.5,481 L459.5,464.5 L474.8,479.6 L474.8,463"/>
<path d="M487.4,481 L496.1,464 L504.8,481"/>
<path d="M518.2,463 L518.2,480.1 L528.3,480.1"/>
<path d="M536.6,463 L545,472.8 L553.4,463 M545,472.8 L545,481"/>
<path d="M573.8,465.8 C571,462.3 563.8,463.2 564,467.6 C564.2,472 574,471.6 574,476.4 C574,481.2 566,481.8 563,477.4"/>
<path d="M585.3,463 L585.3,481"/>
<path d="M607.9,465.8 C605.1,462.3 597.9,463.2 598.1,467.6 C598.3,472 608.1,471.6 608.1,476.4 C608.1,481.2 600.1,481.8 597.1,477.4"/>
</g>

</svg>
</body></html>
